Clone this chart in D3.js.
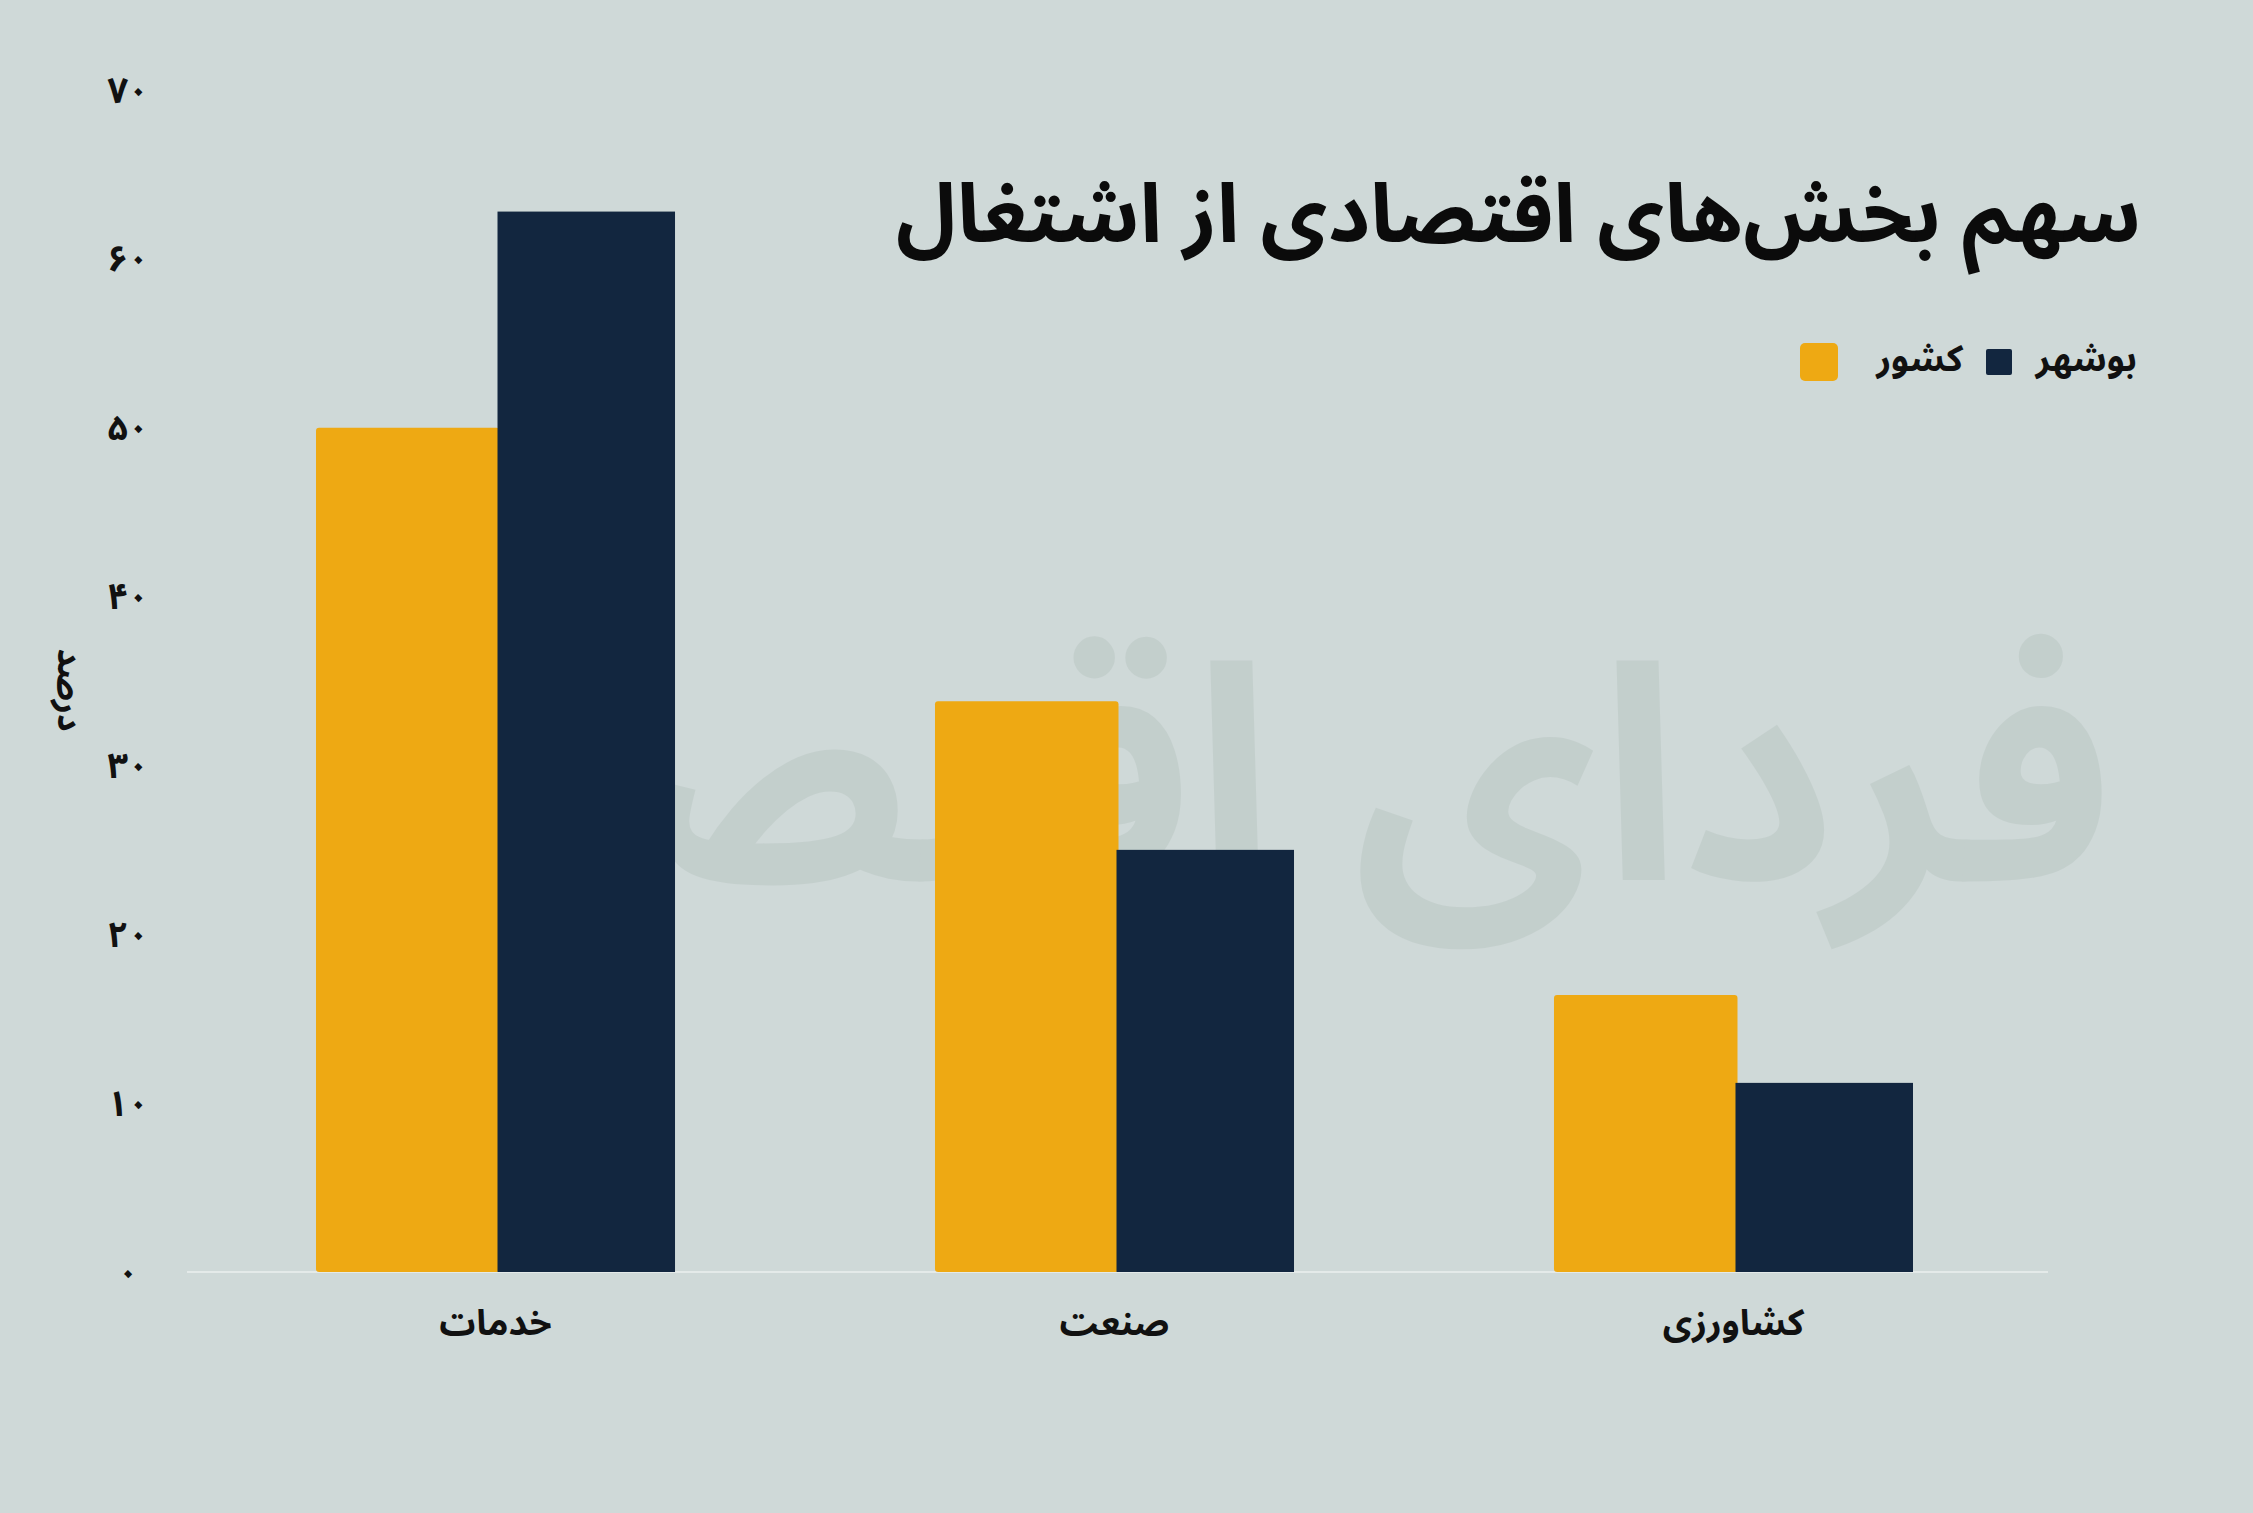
<!DOCTYPE html>
<html><head><meta charset="utf-8">
<script src="https://cdn.jsdelivr.net/npm/d3@7"></script>
<style>body{margin:0;background:#cfd9d8}svg{display:block}</style>
</head><body>
<svg id="chart" width="2253" height="1513"></svg>
<script>
// data
var categories = ["خدمات", "صنعت", "کشاورزی"];
var keshvar = [50, 33.8, 16.4];
var bushehr = [62.8, 25, 11.2];
var yTicks = [0, 10, 20, 30, 40, 50, 60, 70];
var seriesNames = ["بوشهر", "کشور"];

var font = "'Noto Sans Arabic','Vazirmatn','DejaVu Sans',sans-serif";
var orange = "#eea913", navy = "#12263f";

function faNum(n) {
    return String(n).replace(/\d/g, function (d) { return "۰۱۲۳۴۵۶۷۸۹"[d]; });
}

var svg = d3.select("#chart");
svg.append("rect").attr("width", 2253).attr("height", 1513).attr("fill", "#cfd9d8");

// watermark
svg.append("text").attr("x", 1240).attr("y", 880).attr("text-anchor", "middle")
    .attr("font-family", font).attr("font-weight", "bold").attr("font-size", 300)
    .attr("fill", "#b9c6c2").attr("opacity", 0.5).text("فردای اقتصاد");

var y = d3.scaleLinear().domain([0, 70]).range([1272, 90]);
var x = d3.scaleBand().domain(categories).range([316, 1913]).paddingInner(0.42).paddingOuter(0);

// y tick labels
svg.selectAll(".ytick").data(yTicks).enter().append("text")
    .attr("x", 128).attr("y", function (d) { return y(d); })
    .attr("dy", "0.35em").attr("text-anchor", "middle")
    .attr("font-family", font).attr("font-weight", "bold").attr("font-size", 36).attr("fill", "#111")
    .text(function (d) { return faNum(d); });

svg.append("text").attr("transform", "translate(58,690) rotate(90)")
    .attr("text-anchor", "middle").attr("font-family", font).attr("font-weight", "bold")
    .attr("font-size", 34).attr("fill", "#111").text("درصد");

// baseline
svg.append("line").attr("x1", 187).attr("x2", 2048).attr("y1", y(0)).attr("y2", y(0))
    .attr("stroke", "#e4eae9").attr("stroke-width", 2);

var bw = x.bandwidth() / 2;
var g = svg.selectAll(".grp").data(categories).enter().append("g");
g.append("rect").attr("x", function (d) { return x(d); })
    .attr("y", function (d, i) { return y(keshvar[i]); })
    .attr("width", bw + 4).attr("height", function (d, i) { return y(0) - y(keshvar[i]); })
    .attr("rx", 3).attr("fill", orange);
g.append("rect").attr("x", function (d) { return x(d) + bw + 2; })
    .attr("y", function (d, i) { return y(bushehr[i]); })
    .attr("width", bw - 2).attr("height", function (d, i) { return y(0) - y(bushehr[i]); })
    .attr("fill", navy);
g.append("text").attr("x", function (d) { return x(d) + bw; }).attr("y", 1335)
    .attr("text-anchor", "middle").attr("font-family", font).attr("font-weight", "bold")
    .attr("font-size", 36).attr("fill", "#111").text(function (d) { return d; });

// title
svg.append("text").attr("x", 2141).attr("y", 242).attr("text-anchor", "end")
    .attr("font-family", font).attr("font-weight", "bold").attr("font-size", 82)
    .attr("fill", "#0b0b0b").text("سهم بخش‌های اقتصادی از اشتغال");

// legend
var legX = [2137, 1963], legC = [navy, orange], legS = [26, 38];
seriesNames.forEach(function (s, i) {
    svg.append("text").attr("x", legX[i]).attr("y", 358).attr("dy", "0.35em")
        .attr("text-anchor", "end").attr("font-family", font).attr("font-weight", "bold")
        .attr("font-size", 36).attr("fill", "#111").text(s);
    svg.append("rect").attr("x", legX[i] - 125 - legS[i]).attr("y", 362 - legS[i] / 2)
        .attr("width", legS[i]).attr("height", legS[i]).attr("rx", i ? 5 : 2).attr("fill", legC[i]);
});
</script>
</body></html>
